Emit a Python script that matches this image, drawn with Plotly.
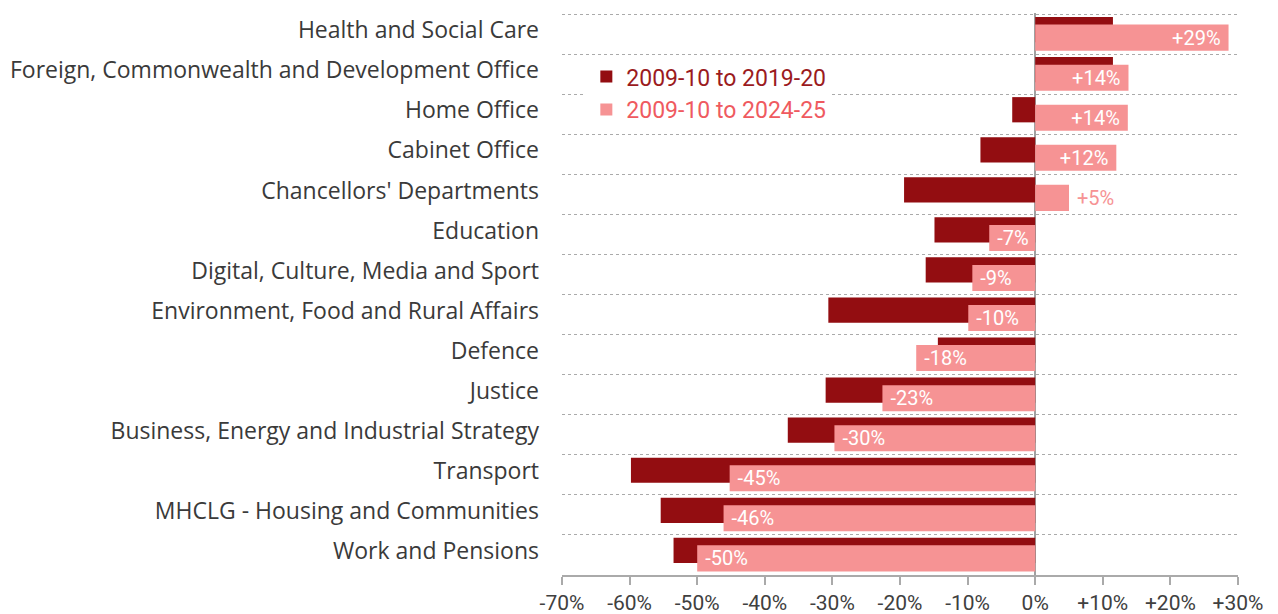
import plotly.graph_objects as go

# Departments, top to bottom
departments = [
    "Health and Social Care",
    "Foreign, Commonwealth and Development Office",
    "Home Office",
    "Cabinet Office",
    "Chancellors' Departments",
    "Education",
    "Digital, Culture, Media and Sport",
    "Environment, Food and Rural Affairs",
    "Defence",
    "Justice",
    "Business, Energy and Industrial Strategy",
    "Transport",
    "MHCLG - Housing and Communities",
    "Work and Pensions",
]

# % change in spending
change_to_2019 = [11.5, 11.5, -3.4, -8.1, -19.4, -14.9, -16.2, -30.6, -14.4, -31.0, -36.6, -59.8, -55.4, -53.5]
change_to_2024 = [28.6, 13.8, 13.7, 12.0, 5.0, -6.8, -9.3, -9.9, -17.6, -22.6, -29.7, -45.2, -46.1, -50.0]

x_ticks = [-70, -60, -50, -40, -30, -20, -10, 0, 10, 20, 30]
x_tick_text = [f"{t:+d}%" if t > 0 else f"{t}%" for t in x_ticks]

dark_red = "#930d11"
pink = "#f69394"
font = "Roboto"

ypos = list(range(len(departments)))
labels = [f"\u00a0{v:+.0f}%\u00a0" for v in change_to_2024]
text_pos = ["outside" if abs(v) < 6 else "inside" for v in change_to_2024]

fig = go.Figure()

fig.add_trace(go.Bar(
    x=change_to_2019,
    y=ypos,
    orientation="h",
    width=0.63,
    offset=-0.43,
    marker=dict(color=dark_red, line=dict(width=0)),
    name="<span style='color:#9b1b1e'>2009-10 to 2019-20</span>",
    hovertemplate="%{x:.1f}%<extra>2009-10 to 2019-20</extra>",
))

fig.add_trace(go.Bar(
    x=change_to_2024,
    y=ypos,
    orientation="h",
    width=0.65,
    offset=-0.24,
    marker=dict(color=pink, line=dict(width=0)),
    name="<span style='color:#ef5a5f'>2009-10 to 2024-25</span>",
    text=labels,
    textposition=text_pos,
    insidetextanchor="end",
    insidetextfont=dict(color="white", size=20, family=font),
    outsidetextfont=dict(color=pink, size=20, family=font),
    constraintext="none",
    cliponaxis=False,
    hovertemplate="%{x:.1f}%<extra>2009-10 to 2024-25</extra>",
))

fig.update_layout(
    width=1278,
    height=614,
    barmode="overlay",
    plot_bgcolor="white",
    paper_bgcolor="white",
    margin=dict(l=562, r=40, t=13, b=39, autoexpand=False),
    font=dict(family=font, size=20, color="#404040"),
    showlegend=True,
    legend=dict(
        x=0.036, y=0.925, xanchor="left", yanchor="top",
        bgcolor="white", font=dict(size=23, family=font),
        traceorder="normal", itemwidth=30,
        tracegroupgap=0,
    ),
)

fig.update_xaxes(
    range=[-70, 30],
    tickvals=x_ticks,
    ticktext=x_tick_text,
    automargin=False,
    showgrid=False,
    zeroline=True,
    zerolinecolor="#a0a0a0",
    zerolinewidth=1.5,
    showline=True,
    linecolor="#aaaaaa",
    linewidth=2,
    ticks="outside",
    ticklen=8,
    tickcolor="#aaaaaa",
    tickwidth=1.5,
    tickfont=dict(size=21, color="#404040"),
)

fig.update_yaxes(
    range=[len(departments) - 0.5, -0.53],
    tickvals=[i - 0.1 for i in ypos],
    ticktext=departments,
    automargin=False,
    showgrid=False,
    zeroline=False,
    showline=False,
    ticks="",
    ticklabelstandoff=22,
    tickfont=dict(size=23, color="#3a3a3a", family="Open Sans"),
    minor=dict(
        tickvals=[i - 0.5 for i in ypos],
        showgrid=True,
        gridcolor="#aaaaaa",
        griddash="dot",
        gridwidth=1,
    ),
)

fig.write_html(
    "out.html",
    config={"displayModeBar": False},
    post_script="document.body.style.margin='0';",
)
